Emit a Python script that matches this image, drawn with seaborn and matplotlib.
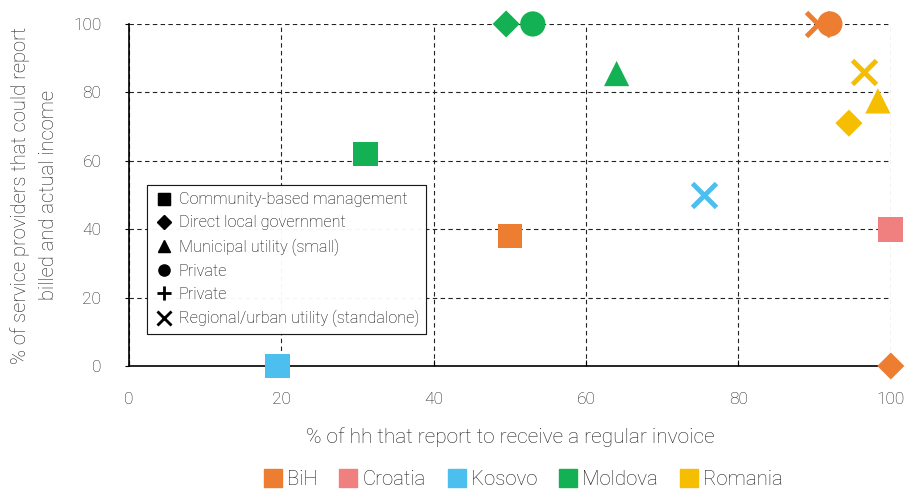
import matplotlib
matplotlib.use("Agg")
import matplotlib.pyplot as plt
from matplotlib.lines import Line2D
import seaborn as sns
import pandas as pd

x_vals = [50, 100, 90.5, 92, 100, 19.5, 75.5, 31, 49.5, 53, 64, 96.5, 98.3, 94.5]
y_vals = [38, 0, 100, 100, 40, 0, 50, 62, 100, 100, 85.5, 86, 77.5, 71]
countries = ["BiH", "BiH", "BiH", "BiH", "Croatia", "Kosovo", "Kosovo",
             "Moldova", "Moldova", "Moldova", "Moldova",
             "Romania", "Romania", "Romania"]
types = ["Community-based management", "Direct local government",
         "Regional/urban utility (standalone)", "Private",
         "Community-based management",
         "Community-based management", "Regional/urban utility (standalone)",
         "Community-based management", "Direct local government", "Private",
         "Municipal utility (small)",
         "Regional/urban utility (standalone)", "Municipal utility (small)",
         "Direct local government"]

country_order = ["BiH", "Croatia", "Kosovo", "Moldova", "Romania"]
country_colors = ["#ED7D31", "#F08080", "#4DBFEF", "#14B054", "#F5BE00"]
type_labels = ["Community-based management", "Direct local government",
               "Municipal utility (small)", "Private", "Private",
               "Regional/urban utility (standalone)"]
type_markers = ["s", "D", "^", "o", "+", "x"]

df = pd.DataFrame({"x": x_vals, "y": y_vals, "country": countries, "type": types})

sns.set_theme(style="white")
plt.rcParams["font.family"] = ["Roboto", "DejaVu Sans"]
plt.rcParams["font.weight"] = "light"
text_color = "#1e1e1e"

fig = plt.figure(figsize=(9.09, 4.95), dpi=100)
ax = fig.add_axes([0.142, 0.2606, 0.838, 0.691])

marker_map = {"Community-based management": "s", "Direct local government": "D",
              "Municipal utility (small)": "^", "Private": "o",
              "Regional/urban utility (standalone)": "X"}
size_map = {"Community-based management": 320, "Direct local government": 190,
            "Municipal utility (small)": 330, "Private": 330,
            "Regional/urban utility (standalone)": 330}

for t, sub in df.groupby("type"):
    if t == "Regional/urban utility (standalone)":
        for _, r in sub.iterrows():
            ax.plot(r["x"], r["y"], marker="x", markersize=17, markeredgewidth=3.5,
                    color=country_colors[country_order.index(r["country"])],
                    linestyle="none", clip_on=False, zorder=3)
    else:
        sns.scatterplot(data=sub, x="x", y="y", hue="country",
                        hue_order=country_order, palette=country_colors,
                        marker=marker_map[t], s=size_map[t], linewidth=0,
                        legend=False, ax=ax, clip_on=False, zorder=3)

ax.set_xlim(0, 100)
ax.set_ylim(0, 100)
ax.set_xticks([0, 20, 40, 60, 80, 100])
ax.set_yticks([0, 20, 40, 60, 80, 100])
ax.grid(True, linestyle=(0, (4, 3)), color="#222222", linewidth=0.8)
for side in ["top", "right"]:
    ax.spines[side].set_visible(False)
for side in ["left", "bottom"]:
    ax.spines[side].set_color("black")
    ax.spines[side].set_linewidth(1.2)
ax.tick_params(axis="x", colors=text_color, labelsize=12.5, length=4,
               width=0.8, pad=19, direction="in", bottom=True)
ax.tick_params(axis="y", colors=text_color, labelsize=12.5, length=3,
               width=0.8, pad=17, direction="out", left=True)
ax.tick_params(axis="both", color="black")
for lab in ax.get_xticklabels() + ax.get_yticklabels():
    lab.set_fontweight("light")
ax.set_xlabel("% of hh that report to receive a regular invoice", fontsize=15,
              color=text_color, labelpad=14, fontweight="light")
ax.set_ylabel("% of service providers that could report\nbilled and actual income",
              fontsize=14.5, color=text_color, labelpad=11, linespacing=1.6,
              fontweight="light")

handles1 = []
for lab, m in zip(type_labels, type_markers):
    if m in ("+", "x"):
        handles1.append(Line2D([], [], marker=m, color="black", linestyle="none",
                               markersize=10, markeredgewidth=2))
    else:
        handles1.append(Line2D([], [], marker=m, color="black", linestyle="none",
                               markersize=8 if m != "D" else 7))
leg1 = ax.legend(handles1, type_labels, loc="upper left",
                 bbox_to_anchor=(0.0236, 0.529), borderaxespad=0,
                 frameon=True, fancybox=False,
                 edgecolor="black", fontsize=11.7, handletextpad=0.3,
                 labelspacing=0.5, borderpad=0.45, handlelength=1.2)
leg1.get_frame().set_linewidth(0.8)
for t in leg1.get_texts():
    t.set_color(text_color)
    t.set_fontweight("light")
ax.add_artist(leg1)

handles2 = [Line2D([], [], marker="s", color=c, linestyle="none", markersize=13)
            for c in country_colors]
leg2 = fig.legend(handles2, country_order, loc="lower center",
                  bbox_to_anchor=(0.575, -0.025), ncol=5, frameon=False,
                  fontsize=14.7, handletextpad=0.2, columnspacing=1.0,
                  handlelength=1.0)
for t in leg2.get_texts():
    t.set_color(text_color)
    t.set_fontweight("light")

fig.savefig("out.png", dpi=100)
